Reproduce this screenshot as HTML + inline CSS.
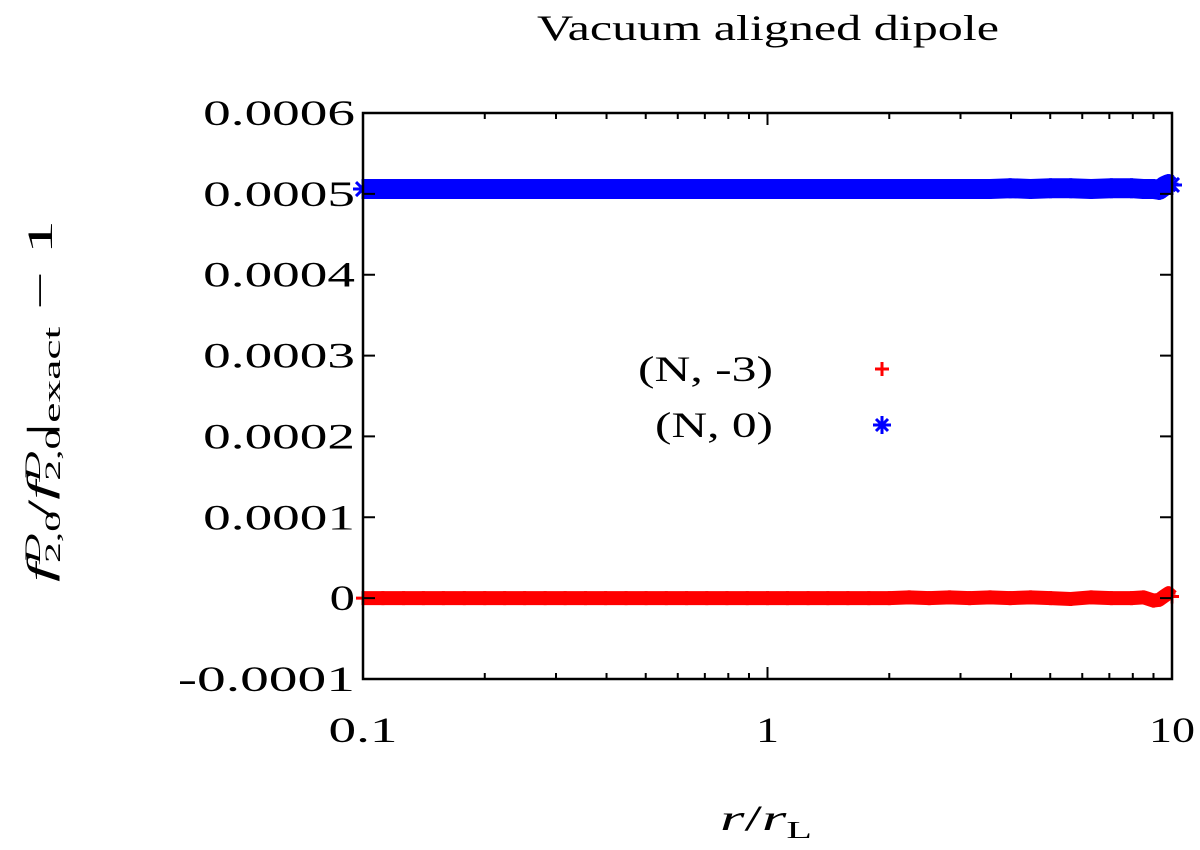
<!DOCTYPE html>
<html><head><meta charset="utf-8"><style>
body{margin:0;background:#fff}
svg text{font-family:"Liberation Serif",serif;fill:#000}
</style></head><body>
<svg id="chart" width="1200" height="845" viewBox="0 0 1200 845" xmlns="http://www.w3.org/2000/svg">
<rect x="0" y="0" width="1200" height="845" fill="#fff"/>
<text x="537" y="40" font-size="36" textLength="462" lengthAdjust="spacingAndGlyphs">Vacuum aligned dipole</text>
<g id="marks"></g>
<rect x="363" y="113" width="809" height="566" fill="none" stroke="#000" stroke-width="2.5"/>
<g id="axes"></g>
<text x="720" y="830" font-size="36" textLength="92" lengthAdjust="spacingAndGlyphs"><tspan font-style="italic">r</tspan>/<tspan font-style="italic">r</tspan><tspan font-size="24" dy="8">L</tspan></text>
<text transform="translate(52,582) rotate(-90)" font-size="36" textLength="362" lengthAdjust="spacingAndGlyphs"><tspan font-style="italic">f</tspan><tspan font-size="22" dy="8">2,0</tspan><tspan font-size="22" dy="-20" dx="-28" font-style="italic">D</tspan><tspan dy="12" dx="8">/</tspan><tspan font-style="italic">f</tspan><tspan font-size="22" dy="8">2,0</tspan><tspan font-size="22" dy="-20" dx="-28" font-style="italic">D</tspan><tspan dy="12" dx="8">|</tspan><tspan font-size="24" dy="8">exact</tspan><tspan dy="-8"> − 1</tspan></text>
<g>
<text x="638" y="381" font-size="36" textLength="135" lengthAdjust="spacingAndGlyphs">(N, -3)</text>
<text x="655" y="437" font-size="36" textLength="118" lengthAdjust="spacingAndGlyphs">(N, 0)</text>
<path d="M875 369h14M882 362v14" stroke="#f00" stroke-width="3"/>
<path d="M873 425h18M882 416v18M876 419l12 12M888 419l-12 12" stroke="#00f" stroke-width="3"/>
</g>
</svg>
<script>
const rValues=[0.1,0.112,0.126,0.141,0.158,0.178,0.2,0.224,0.251,0.282,0.316,0.355,0.398,0.447,0.501,0.562,0.631,0.708,0.794,0.891,1,1.12,1.26,1.41,1.58,1.78,2,2.24,2.51,2.82,3.16,3.55,3.98,4.47,5.01,5.62,6.31,7.08,7.94,8.5,9.0,9.3,9.6,9.8,10];
const seriesN0=[0.000506,0.000506,0.000506,0.000506,0.000506,0.000506,0.000506,0.000506,0.000506,0.000506,0.000506,0.000506,0.000506,0.000506,0.000506,0.000506,0.000506,0.000506,0.000506,0.000506,0.000506,0.000506,0.000506,0.000506,0.000506,0.000506,0.000506,0.000506,0.000506,0.000506,0.000506,0.000506,0.000507,0.000506,0.000507,0.000507,0.000506,0.000507,0.000507,0.000506,0.000506,0.000505,0.000510,0.000512,0.000511];
const seriesNm3=[0.000000,0.000000,0.000000,0.000000,0.000000,0.000000,0.000000,0.000000,0.000000,0.000000,0.000000,0.000000,0.000000,0.000000,0.000000,0.000000,0.000000,0.000000,0.000000,0.000000,0.000000,0.000000,0.000000,0.000000,0.000000,0.000000,0.000000,0.000001,0.000000,0.000001,0.000000,0.000001,0.000000,0.000001,0.000000,-0.000001,0.000001,0.000000,0.000000,0.000001,-0.000003,-0.000002,0.000003,0.000006,0.000002];
const yTicks=[-0.0001,0,0.0001,0.0002,0.0003,0.0004,0.0005,0.0006];
const yTickLabels=["-0.0001","0","0.0001","0.0002","0.0003","0.0004","0.0005","0.0006"];
const xTicks=[0.1,1,10];
const xTickLabels=["0.1","1","10"];
const X0=363,X1=1172,Y0=679,Y1=113;
const xs=v=>X0+(Math.log10(v)+1)/2*(X1-X0);
const ys=v=>Y0-(v+0.0001)/0.0007*(Y0-Y1);
const NS="http://www.w3.org/2000/svg";
const axes=document.getElementById('axes'),marks=document.getElementById('marks');
function mk(t,a,p){const e=document.createElementNS(NS,t);for(const k in a)e.setAttribute(k,a[k]);p.appendChild(e);return e;}
const charW=25.3;
yTicks.forEach((v,i)=>{const y=ys(v);
 const t=mk('path',{d:`M${X0} ${y}h12M${X1} ${y}h-12`,stroke:'#000','stroke-width':2},axes);
 
 
 const s=yTickLabels[i];const w=s.length*charW;
 const l=mk('text',{x:355-w,y:y+12,'font-size':36,textLength:w,lengthAdjust:'spacingAndGlyphs'},axes);l.textContent=s;
 
 
});
for(let d=0.1;d<10;d*=10){for(let m=1;m<10;m++){const v=d*m;const x=xs(v);const len=m===1?12:6;
 const t=mk('path',{d:`M${x} ${Y0}v-${len}M${x} ${Y1}v${len}`,stroke:'#000','stroke-width':2},axes);
 
 }}
xTicks.forEach((v,i)=>{const s=xTickLabels[i];const w=s.length*23;
 const l=mk('text',{x:xs(v)-w/2,y:742,'font-size':36,textLength:w,lengthAdjust:'spacingAndGlyphs'},axes);l.textContent=s;
 
 });
function series(vals,color,w,name,star){
 const g=mk('g',{},marks);
 
 
 const pts=rValues.map((r,i)=>xs(r)+','+ys(vals[i])).join(' ');
 const pl=mk('polyline',{points:pts,fill:'none',stroke:color,'stroke-width':w,'stroke-linejoin':'round'},g);
 
 
 rValues.forEach((r,i)=>{const x=xs(r),y=ys(vals[i]),h=w/2;
  const d=star?`M${x-h} ${y}h${w}M${x} ${y-h}v${w}M${x-h*0.7} ${y-h*0.7}l${w*0.7} ${w*0.7}M${x+h*0.7} ${y-h*0.7}l${-w*0.7} ${w*0.7}`:`M${x-h} ${y}h${w}M${x} ${y-h}v${w}`;
  const p=mk('path',{d:d,stroke:color,'stroke-width':3},g);
  
  });
}
series(seriesN0,'#00f',20,'series-n-0',true);
series(seriesNm3,'#f00',14,'series-n-minus3',false);
</script>
</body></html>
